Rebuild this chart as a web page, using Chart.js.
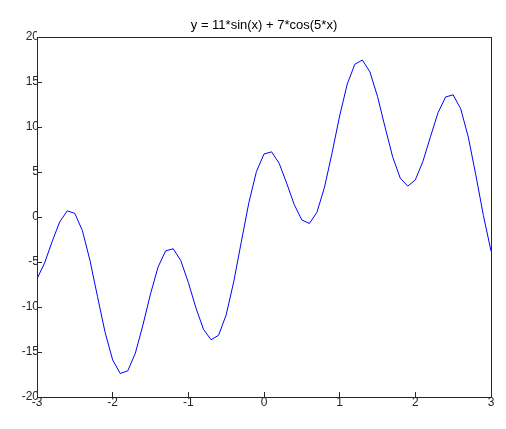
<!DOCTYPE html>
<html><head><meta charset="utf-8">
<script src="https://cdn.jsdelivr.net/npm/chart.js@4/dist/chart.umd.min.js"></script>
<style>html,body{margin:0;padding:0;background:#fff}#w{width:506px;height:429px}</style>
</head><body><div id="w"><canvas id="c"></canvas></div>
<script>
const titleText = "y = 11*sin(x) + 7*cos(5*x)";
const xValues = [-3,-2.9,-2.8,-2.7,-2.6,-2.5,-2.4,-2.3,-2.2,-2.1,-2,-1.9,-1.8,-1.7,-1.6,-1.5,-1.4,-1.3,-1.2,-1.1,-1,-0.9,-0.8,-0.7,-0.6,-0.5,-0.4,-0.3,-0.2,-0.1,0,0.1,0.2,0.3,0.4,0.5,0.6,0.7,0.8,0.9,1,1.1,1.2,1.3,1.4,1.5,1.6,1.7,1.8,1.9,2,2.1,2.2,2.3,2.4,2.5,2.6,2.7,2.8,2.9,3];
const yValues = [-6.87,-5.12,-2.73,-0.54,0.68,0.40,-1.52,-4.82,-8.86,-12.82,-15.88,-17.39,-17.09,-15.12,-12.01,-8.55,-5.56,-3.76,-3.53,-4.84,-7.27,-10.09,-12.47,-13.64,-13.14,-10.88,-7.20,-2.76,1.60,5.05,7.00,7.24,5.97,3.75,1.37,-0.33,-0.72,0.53,3.32,7.14,11.24,14.76,16.97,17.44,16.12,13.40,9.98,6.69,4.33,3.43,4.13,6.17,8.92,11.59,13.34,13.57,12.02,8.87,4.64,0.15,-3.77];
const box = {id:'box', afterDraw(ch){const a=ch.chartArea,c=ch.ctx;c.save();c.strokeStyle='#262626';c.lineWidth=1;
 c.strokeRect(Math.round(a.left)+0.5,Math.round(a.top)+0.5,Math.round(a.right-a.left),Math.round(a.bottom-a.top));
 c.fillStyle='#000';c.font='13px "Liberation Sans"';c.textAlign='center';c.textBaseline='middle';
 c.fillText(titleText,(a.left+a.right)/2,25);c.restore();}};
new Chart(document.getElementById('c'),{type:'line',
 data:{datasets:[{data:xValues.map((x,i)=>({x,y:yValues[i]})),borderColor:'#0000ff',borderWidth:1,pointRadius:0,tension:0,fill:false}]},
 options:{responsive:true,maintainAspectRatio:false,animation:false,
  layout:{padding:{top:37,right:15,left:0,bottom:0}},
  plugins:{legend:{display:false},tooltip:{enabled:false}},
  scales:{
   x:{type:'linear',min:-3,max:3,afterFit(s){s.height=32;},
      ticks:{stepSize:1,color:'#262626',font:{family:'Liberation Sans',size:12},maxRotation:0},
      grid:{drawOnChartArea:false,tickLength:-5,color:'#262626'},border:{color:'#262626'}},
   y:{min:-20,max:20,afterFit(s){s.width=37;},
      ticks:{stepSize:5,color:'#262626',font:{family:'Liberation Sans',size:12}},
      grid:{drawOnChartArea:false,tickLength:-5,color:'#262626'},border:{color:'#262626'}}
  }},plugins:[box]});
</script></body></html>
